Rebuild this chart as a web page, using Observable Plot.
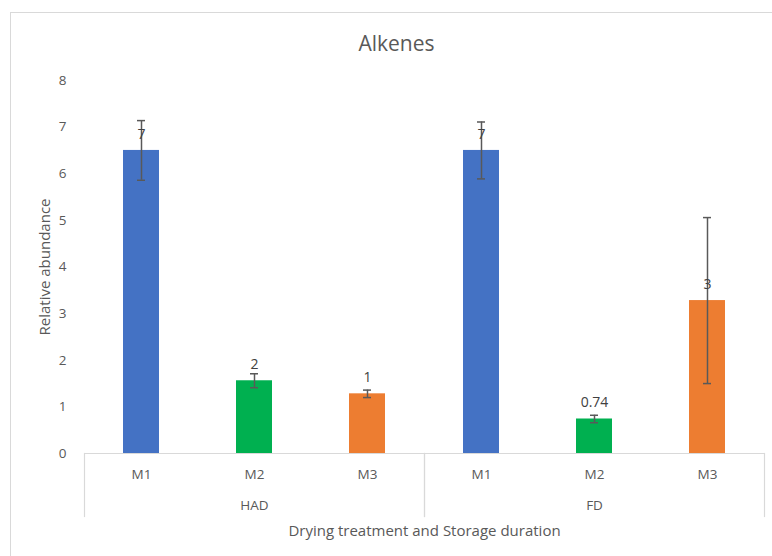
<!DOCTYPE html>
<html>
<head>
<meta charset="utf-8">
<script src="https://cdn.jsdelivr.net/npm/d3@7"></script>
<script src="https://cdn.jsdelivr.net/npm/@observablehq/plot@0.6"></script>
<style>
  html, body { margin: 0; padding: 0; background: #fff; }
  #wrap { position: relative; width: 772px; height: 556px; overflow: hidden; font-family: "Open Sans", sans-serif; }
  #border { position: absolute; left: 10px; top: 12px; width: 800px; height: 600px; border: 1.5px solid #d9d9d9; box-sizing: border-box; }
  #title { position: absolute; left: 0; top: 29px; width: 793px; text-align: center; font-size: 21px; color: #595959; line-height: 28px; }
  #chart { position: absolute; left: 0; top: 0; }
</style>
</head>
<body>
<div id="wrap">
  <div id="border"></div>
  <div id="chart"></div>
  <div id="title">Alkenes</div>
</div>
<script>
const groups = ["HAD", "HAD", "HAD", "FD", "FD", "FD"];
const methods = ["M1", "M2", "M3", "M1", "M2", "M3"];
const values = [6.5, 1.56, 1.28, 6.5, 0.74, 3.28];
const errors = [0.64, 0.15, 0.08, 0.61, 0.08, 1.78];
const labels = ["7", "2", "1", "7", "0.74", "3"];
const groupOrder = ["HAD", "FD"];
const methodOrder = ["M1", "M2", "M3"];
const methodColors = ["#4472C4", "#00B050", "#ED7D31"];
const yTicks = [0, 1, 2, 3, 4, 5, 6, 7, 8];
const yLabel = "Relative abundance";
const xLabel = "Drying treatment and Storage duration";

const data = values.map((v, i) => ({
  group: groups[i],
  method: methods[i],
  value: v,
  lo: v - errors[i],
  hi: v + errors[i],
  label: labels[i]
}));

const errColor = "#595959";

const chart = Plot.plot({
  width: 772,
  height: 556,
  marginLeft: 83,
  marginRight: 8,
  marginTop: 80,
  marginBottom: 103,
  style: { fontFamily: "Open Sans, sans-serif", fontSize: "13px", color: "#595959", background: "transparent", overflow: "visible" },
  fx: { domain: groupOrder, padding: 0, axis: null, label: null },
  x: { domain: methodOrder, paddingInner: 0.683, paddingOuter: 0.3415, axis: null, label: null },
  y: { domain: [0, 8], axis: null, label: null },
  color: { domain: methodOrder, range: methodColors },
  marks: [
    Plot.frame({ anchor: "left", stroke: "#d9d9d9", strokeWidth: 1.2, insetTop: 373, insetBottom: -63 }),
    Plot.frame({ anchor: "right", stroke: "#d9d9d9", strokeWidth: 1.2, insetTop: 373, insetBottom: -63 }),
    Plot.ruleY([0], { stroke: "#d9d9d9", strokeWidth: 1.2 }),
    Plot.barY(data, { fx: "group", x: "method", y: "value", fill: "method" }),
    Plot.ruleX(data, { fx: "group", x: "method", y1: "lo", y2: "hi", stroke: errColor, strokeWidth: 1.5 }),
    Plot.tickY(data, { fx: "group", x: "method", y: "hi", stroke: errColor, strokeWidth: 1.5, insetLeft: 14, insetRight: 14 }),
    Plot.tickY(data, { fx: "group", x: "method", y: "lo", stroke: errColor, strokeWidth: 1.5, insetLeft: 14, insetRight: 14 }),
    Plot.text(data, { fx: "group", x: "method", y: "value", text: "label", dy: -16, fill: "#404040", fontSize: 14 }),
    Plot.axisY({ ticks: yTicks, tickSize: 0, tickPadding: 18, tickFormat: d => String(d), fontSize: 13.5, label: null }),
    Plot.axisY({ ticks: [], tickSize: 0, label: yLabel, labelArrow: "none", labelAnchor: "center", labelOffset: 45, fontSize: 15 }),
    Plot.axisX({ tickSize: 0, tickPadding: 16, label: null, fontSize: 13.5 }),
    Plot.axisFx({ anchor: "bottom", tickSize: 0, tickPadding: 47, label: null, fontSize: 13.5 }),
    Plot.axisFx({ anchor: "bottom", ticks: [], tickSize: 0, label: xLabel, labelArrow: "none", labelAnchor: "center", labelOffset: 82, fontSize: 15 })
  ]
});

document.getElementById("chart").appendChild(chart);
</script>
</body>
</html>
